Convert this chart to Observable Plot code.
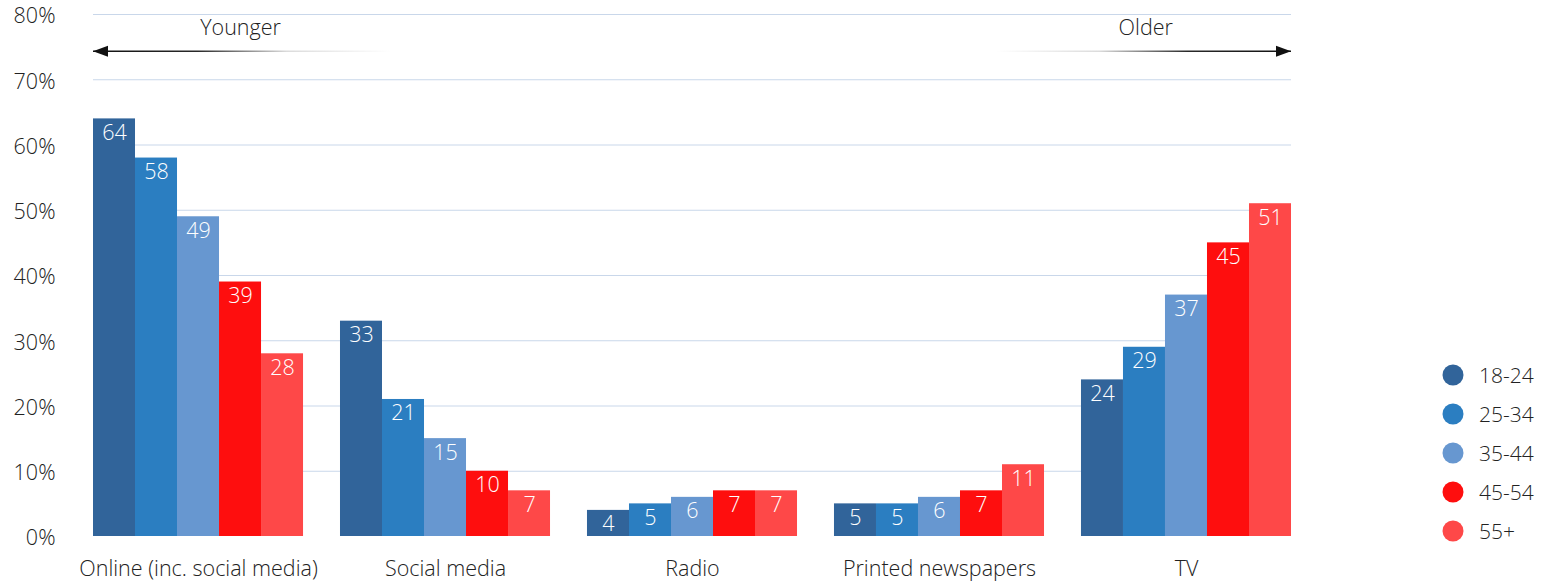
<!DOCTYPE html>
<html>
<head>
<meta charset="utf-8">
<script src="https://cdn.jsdelivr.net/npm/d3@7"></script>
<script src="https://cdn.jsdelivr.net/npm/@observablehq/plot@0.6"></script>
<style>
  html, body { margin: 0; padding: 0; background: #fff; }
  #chart { width: 1556px; height: 582px; overflow: hidden; }
  svg { font-family: "Open Sans", "Liberation Sans", Arial, sans-serif; font-weight: 300; }
  svg text { font-weight: 300; }
</style>
</head>
<body>
<div id="chart"></div>
<script>
// ---- data ----
const categories = ["Online (inc. social media)", "Social media", "Radio", "Printed newspapers", "TV"];
const ages = ["18-24", "25-34", "35-44", "45-54", "55+"];
const onlineValues = [64, 58, 49, 39, 28];
const socialValues = [33, 21, 15, 10, 7];
const radioValues = [4, 5, 6, 7, 7];
const printedValues = [5, 5, 6, 7, 11];
const tvValues = [24, 29, 37, 45, 51];
const yTicks = [0, 10, 20, 30, 40, 50, 60, 70, 80];
const gridTicks = [10, 20, 30, 40, 50, 60, 70, 80];
const ageColors = ["#31649a", "#2b7ec1", "#6797d0", "#fe0e0e", "#fe4848"];

const seriesByCategory = [onlineValues, socialValues, radioValues, printedValues, tvValues];
const GAP = 0.88; // gap between groups, in bar widths
const groupStep = ages.length + GAP;
const xMax = categories.length * ages.length + (categories.length - 1) * GAP;

const rows = [];
categories.forEach((cat, i) => {
  ages.forEach((age, j) => {
    const x1 = i * groupStep + j;
    rows.push({cat, age, value: seriesByCategory[i][j], x1, x2: x1 + 1, xc: x1 + 0.5});
  });
});
const groupCenters = categories.map((c, i) => i * groupStep + ages.length / 2);

const FONT = "'Open Sans', 'Liberation Sans', Arial, sans-serif";
const W = 1556, H = 582;
const plot = Plot.plot({
  width: W,
  height: H,
  marginLeft: 93,
  marginRight: 265,
  marginTop: 14,
  marginBottom: 46,
  style: {fontSize: "21.5px", color: "#222", background: "transparent", fontFamily: FONT},
  x: {
    domain: [0, xMax],
    ticks: groupCenters,
    tickFormat: (d) => categories[groupCenters.indexOf(d)],
    tickSize: 0,
    tickPadding: 24,
    label: null
  },
  y: {
    domain: [0, 80],
    axis: null
  },
  color: {domain: ages, range: ageColors},
  marks: [
    Plot.ruleY(gridTicks, {stroke: "#c9d7ea", strokeWidth: 1}),
    Plot.text(yTicks, {x: 0, y: (d) => d, text: (d) => d + "%", textAnchor: "end", dx: -38, dy: 2, fill: "#222", fontSize: 21.5}),
    Plot.rectY(rows, {x1: "x1", x2: "x2", y: "value", fill: "age"}),
    Plot.text(rows, {x: "xc", y: "value", text: (d) => String(d.value), fill: "white", dy: 14, fontSize: 21.5}),
    Plot.text(["Younger"], {x: [3.5], y: [77.9], text: (d) => d, fill: "#222", fontSize: 21.5}),
    Plot.text(["Older"], {x: [25.05], y: [77.9], text: (d) => d, fill: "#222", fontSize: 21.5})
  ]
});
document.getElementById("chart").appendChild(plot);

// ---- annotations: gradient arrows & legend ----
const svg = d3.select(plot.tagName.toLowerCase() === "svg" ? plot : plot.querySelector("svg"));
const xs = plot.scale("x"), ys = plot.scale("y");
const sx = xs.apply ? (v) => xs.apply(v) : d3.scaleLinear(xs.domain, xs.range);
const sy = ys.apply ? (v) => ys.apply(v) : d3.scaleLinear(ys.domain, ys.range);
const defs = svg.append("defs");
const ay = sy(74.3);
function arrow(id, xFrom, xTo, leftBlack) {
  const a = sx(xFrom), b = sx(xTo);
  const g = defs.append("linearGradient").attr("id", id).attr("gradientUnits", "userSpaceOnUse")
    .attr("x1", a).attr("x2", b).attr("y1", 0).attr("y2", 0);
  g.append("stop").attr("offset", 0).attr("stop-color", "#111").attr("stop-opacity", leftBlack ? 1 : 0);
  g.append("stop").attr("offset", 0.35).attr("stop-color", "#111").attr("stop-opacity", leftBlack ? 0.9 : 0.15);
  g.append("stop").attr("offset", 0.65).attr("stop-color", "#111").attr("stop-opacity", leftBlack ? 0.15 : 0.9);
  g.append("stop").attr("offset", 1).attr("stop-color", "#111").attr("stop-opacity", leftBlack ? 0 : 1);
  svg.append("line").attr("x1", a).attr("x2", b).attr("y1", ay).attr("y2", ay)
    .attr("stroke", `url(#${id})`).attr("stroke-width", 1.6);
  const tip = leftBlack ? a : b;
  const dir = leftBlack ? 1 : -1;
  svg.append("path")
    .attr("d", `M${tip},${ay} L${tip + dir * 15},${ay - 5.5} L${tip + dir * 15},${ay + 5.5} Z`)
    .attr("fill", "#111");
}
arrow("gradLeft", 0, 7.1, true);
arrow("gradRight", 21.5, xMax, false);

const lg = svg.append("g").attr("text-anchor", "start").attr("font-family", FONT);
ages.forEach((age, i) => {
  const cy = 375 + i * 39;
  lg.append("circle").attr("cx", W - 103).attr("cy", cy).attr("r", 10.5).attr("fill", ageColors[i]);
  lg.append("text").attr("x", W - 77).attr("y", cy).attr("dy", "0.36em")
    .attr("fill", "#222").attr("font-size", 21).text(age);
});
</script>
</body>
</html>
